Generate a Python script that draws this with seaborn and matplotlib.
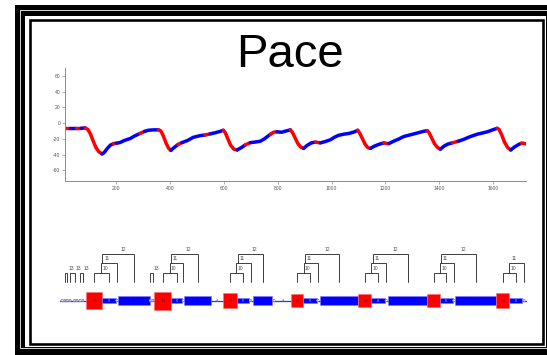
import numpy as np
import pandas as pd
import matplotlib
matplotlib.use("Agg")
import matplotlib.pyplot as plt
import seaborn as sns
from matplotlib.patches import Rectangle, Circle

# ---------------- data ----------------
title = "Pace"

pace_x = [10, 30, 50, 70, 85,
          95, 105, 115, 125, 135, 147,
          155, 165, 178, 190, 200, 215, 230, 252, 270, 289, 305, 320, 340, 357,
          365, 375, 385, 395, 403,
          415, 430, 444, 465, 486, 510, 530, 549, 570, 590, 598,
          605, 615, 625, 637, 649,
          665, 680, 698, 715, 735, 750, 773, 785, 797, 815, 830, 847,
          855, 865, 875, 886, 896,
          910, 925, 940, 958, 975, 996, 1010, 1025, 1045, 1065, 1085, 1097,
          1105, 1115, 1125, 1135, 1144,
          1160, 1175, 1194, 1212, 1230, 1250, 1268, 1290, 1318, 1340, 1355,
          1362, 1372, 1382, 1394, 1404,
          1418, 1432, 1448, 1470, 1491, 1515, 1541, 1560, 1578, 1598, 1615,
          1622, 1632, 1642, 1654, 1665,
          1680, 1695, 1705, 1712, 1727]
pace_y = [-6.5, -6.5, -6.5, -6.5, -6,
          -8, -14, -23, -31, -36, -39,
          -37.5, -33, -28, -26, -25.5, -24.5, -22, -19.5, -16, -13, -10.5, -9, -8.5, -8.5,
          -9.5, -16, -25, -32, -34.5,
          -31, -27, -24.7, -22, -18, -16, -15, -13.6, -12, -10, -9,
          -12, -20, -28, -33, -34,
          -31, -27.5, -24.7, -24, -23, -20, -14, -11.5, -11, -11.5, -10, -8.5,
          -12, -19, -26, -30.5, -32,
          -28, -25, -24, -25, -23.5, -21, -18, -15.5, -14, -13, -11, -9,
          -13, -20, -27, -31, -32,
          -29, -27, -25, -26, -23, -20, -17, -15, -12.5, -10.5, -9.5,
          -12, -19, -26, -31, -33,
          -29, -26.5, -25, -23, -20.5, -17, -14, -12.5, -11, -8.5, -6.5,
          -8, -15, -24, -31, -34,
          -30, -27, -25.5, -25.5, -26.5]
# colour of the segment that ends at each point: b = blue, r = red
pace_state = ["b", "r", "b", "r", "b",
              "r", "r", "r", "r", "r", "r",
              "b", "b", "b", "b", "r", "b", "b", "b", "b", "b", "r", "b", "b", "b",
              "r", "r", "r", "r", "r",
              "b", "b", "r", "b", "b", "b", "b", "r", "b", "b", "b",
              "r", "r", "r", "r", "r",
              "b", "b", "r", "b", "b", "b", "b", "r", "r", "b", "b", "b",
              "r", "r", "r", "r", "r",
              "b", "b", "b", "r", "b", "b", "b", "b", "b", "b", "b", "b",
              "r", "r", "r", "r", "r",
              "b", "b", "b", "r", "b", "b", "b", "b", "b", "b", "b",
              "r", "r", "r", "r", "r",
              "b", "b", "b", "r", "b", "b", "b", "b", "b", "b", "b",
              "r", "r", "r", "r", "r",
              "b", "b", "b", "r", "r"]

y_ticks = [-60, -40, -20, 0, 20, 40, 60]
x_ticks = [200, 400, 600, 800, 1000, 1200, 1400, 1600]

# parse track (element kind, start, end, letter)
track_kind = ["o", "o", "o", "o", "o", "o", "o", "o",
              "H", "b", "o", "F", "o", "o",
              "H", "b", "o", "F", "A",
              "H", "b", "o", "F", "o", "A",
              "H", "b", "o", "F",
              "H", "b", "o", "F",
              "H", "b", "o", "F",
              "H", "b", "o"]
track_start = [60.8, 63.3, 66.1, 68.8, 73.3, 75.8, 78.8, 81.5,
               85.7, 101.7, 115.7, 118.3, 149.1, 151.5,
               154.3, 171.3, 182.0, 184.0, 211.7,
               223.3, 236.7, 249.3, 253.3, 272.8, 275.5,
               290.7, 303.3, 316.7, 320.0,
               358.3, 371.0, 385.1, 388.3,
               427.3, 440.0, 452.7, 455.0,
               496.0, 509.3, 522.8]
track_end = [63.2, 65.7, 68.5, 71.2, 75.7, 78.2, 81.2, 83.9,
             101.7, 116.0, 118.1, 150.0, 151.5, 153.9,
             171.3, 182.3, 184.4, 211.0, 222.7,
             236.7, 248.7, 251.7, 272.3, 275.2, 290.0,
             303.3, 316.7, 319.1, 358.3,
             371.0, 385.0, 387.5, 426.7,
             440.0, 452.7, 455.1, 496.0,
             509.3, 521.7, 525.2]
track_letter = ["C", "B", "D", "B", "C", "B", "C", "B",
                "H", "B", "C", "F", "D", "B",
                "H", "B", "C", "F", "A",
                "H", "B", "C", "F", "C", "A",
                "H", "B", "C", "F",
                "H", "A", "C", "F",
                "H", "B", "C", "F",
                "H", "B", "E"]

# parse tree above the track: label, left child, right child (Lk leaf, Nk node)
tree_label = ["13", "13", "13", "10", "11", "12", "13",
              "10", "11", "12", "10", "11", "12", "10", "11", "12",
              "10", "11", "12", "10", "11", "12", "10", "11"]
tree_left = ["L1", "L3", "L6", "L8", "N3", "N4", "L12",
             "L14", "N7", "N8", "L19", "N10", "N11", "L25", "N13", "N14",
             "L29", "N16", "N17", "L33", "N19", "N20", "L37", "N22"]
tree_right = ["L2", "L4", "L7", "L9", "L10", "L11", "L13",
              "L15", "L16", "L17", "L20", "L21", "L22", "L26", "L27", "L28",
              "L30", "L31", "L32", "L34", "L35", "L36", "L38", "L39"]

# ---------------- figure ----------------
W, H = 547, 355
sns.set_theme(style="white")
plt.rcParams["font.family"] = ["Liberation Sans", "DejaVu Sans"]
fig = plt.figure(figsize=(W / 100, H / 100), dpi=100)
fig.patch.set_facecolor("white")

# overlay in pixel coordinates for frame, title, tree, track
ov = fig.add_axes([0, 0, 1, 1], zorder=0)
ov.set_xlim(0, W)
ov.set_ylim(H, 0)
ov.axis("off")


def pt(p):
    return p * 0.72


# frame
ov.add_patch(Rectangle((15, 5), 700, 500, facecolor="black", edgecolor="none"))
ov.add_patch(Rectangle((19.6, 10.3), 700, 337.6, facecolor="none",
                       edgecolor="#d0d0d0", lw=pt(1.0)))
ov.add_patch(Rectangle((25, 16), 520.5, 330.5, facecolor="white", edgecolor="none"))
ov.add_patch(Rectangle((29.7, 20.2), 512.9, 323.6, facecolor="none",
                       edgecolor="black", lw=pt(2.6)))

ov.text(289.5, 55, title, ha="center", va="center", fontsize=34, color="black")

# ---------------- pace line ----------------
ax = fig.add_axes([65 / W, 1 - 180.7 / H, 461 / W, (180.7 - 68) / H], zorder=2)
ax.set_facecolor("none")

rows = []
run = 0
prev = None
for i in range(1, len(pace_x)):
    s = pace_state[i]
    if s != prev:
        run += 1
        rows.append((pace_x[i - 1], pace_y[i - 1], f"{s}{run}"))
        prev = s
    rows.append((pace_x[i], pace_y[i], f"{s}{run}"))
df = pd.DataFrame(rows, columns=["x", "y", "run"])
palette = {r: ("#ff0000" if r.startswith("r") else "#0000ff") for r in df["run"].unique()}
sns.lineplot(data=df, x="x", y="y", hue="run", palette=palette, sort=False,
             estimator=None, legend=False, lw=2.5, ax=ax,
             solid_capstyle="round", solid_joinstyle="round")

ax.set_xlim(10, 1722)
ax.set_ylim(-73, 70)
ax.set_xticks(x_ticks)
ax.set_yticks(y_ticks)
ax.set_xticklabels([str(t) for t in x_ticks])
ax.set_yticklabels([str(t) for t in y_ticks])
ax.set_xlabel("")
ax.set_ylabel("")
for side in ["top", "right"]:
    ax.spines[side].set_visible(False)
for side in ["left", "bottom"]:
    ax.spines[side].set_color("#8c8c8c")
    ax.spines[side].set_linewidth(0.7)
ax.tick_params(axis="both", which="both", length=2, width=0.5, color="#8c8c8c",
               labelsize=3.6, labelcolor="#555555", pad=1.5,
               bottom=True, left=True)

# ---------------- track ----------------
ty = 300.5
ov.plot([60, 526], [ty, ty], color="#3030ff", lw=pt(1.3), zorder=1)
for k, s, e, l in zip(track_kind, track_start, track_end, track_letter):
    w = e - s
    c = (s + e) / 2
    if k == "H":
        ov.add_patch(Rectangle((s, ty - w / 2 - 0.5), w, w + 1, facecolor="#ff0000",
                               edgecolor="#ff7070", lw=pt(0.6), zorder=3))
        ov.text(c, ty, l, ha="center", va="center", fontsize=3, color="#600000", zorder=4)
    elif k == "F":
        ov.add_patch(Rectangle((s, ty - 4.6), w, 9.2, facecolor="#0000ff",
                               edgecolor="#8080ff", lw=pt(0.6), zorder=3))
        ov.text(c, ty, l, ha="center", va="center", fontsize=3, color="#000060", zorder=4)
    elif k == "b":
        ov.add_patch(Rectangle((s, ty - 2.8), w, 5.6, facecolor="#0000ff",
                               edgecolor="#8080ff", lw=pt(0.6), zorder=3))
        ov.text(c, ty, l, ha="center", va="center", fontsize=2.5, color="#9090c0", zorder=4)
    elif k == "A":
        ov.text(c, ty, l, ha="center", va="center", fontsize=2.5, color="#606080", zorder=4)
    else:
        ov.add_patch(Circle((c, ty), w / 2, facecolor="white",
                            edgecolor="#9a8aa0", lw=pt(0.6), zorder=3))
        ov.text(c, ty, l, ha="center", va="center", fontsize=2.2, color="#606080", zorder=4)

# ---------------- tree ----------------
level_y = {"13": 272.7, "10": 272.7, "11": 263.3, "12": 254.0}
leaf_bottom = 281.7
centers = [(s + e) / 2 for s, e in zip(track_start, track_end)]
attach = {}
tops = {}
for i, (lab, lc, rc) in enumerate(zip(tree_label, tree_left, tree_right)):
    top = level_y[lab]
    legs = []
    for ch in (lc, rc):
        if ch.startswith("L"):
            legs.append((centers[int(ch[1:])], leaf_bottom))
        else:
            j = int(ch[1:])
            legs.append((attach[j], tops[j]))
    (xl, yl), (xr, yr) = legs
    ov.plot([xl, xl, xr, xr], [yl, top, top, yr], color="#303030",
            lw=pt(0.9), zorder=2, solid_joinstyle="miter")
    tops[i] = top
    if lc.startswith("L") and rc.startswith("L"):
        attach[i] = (xl + xr) / 2
    else:
        attach[i] = xl + 1.2
    if lab == "10":
        lx = (xl + xr) / 2 + 4
    elif lab == "11":
        lx = xl + 5.5
    elif lab == "12":
        lx = xl + 0.65 * (xr - xl)
    else:
        lx = xr + 4
    ov.text(lx, top - 4.5, lab, ha="center", va="center", fontsize=3.6,
            color="#505050", zorder=2)

fig.savefig("out.png", dpi=100, facecolor="white")
